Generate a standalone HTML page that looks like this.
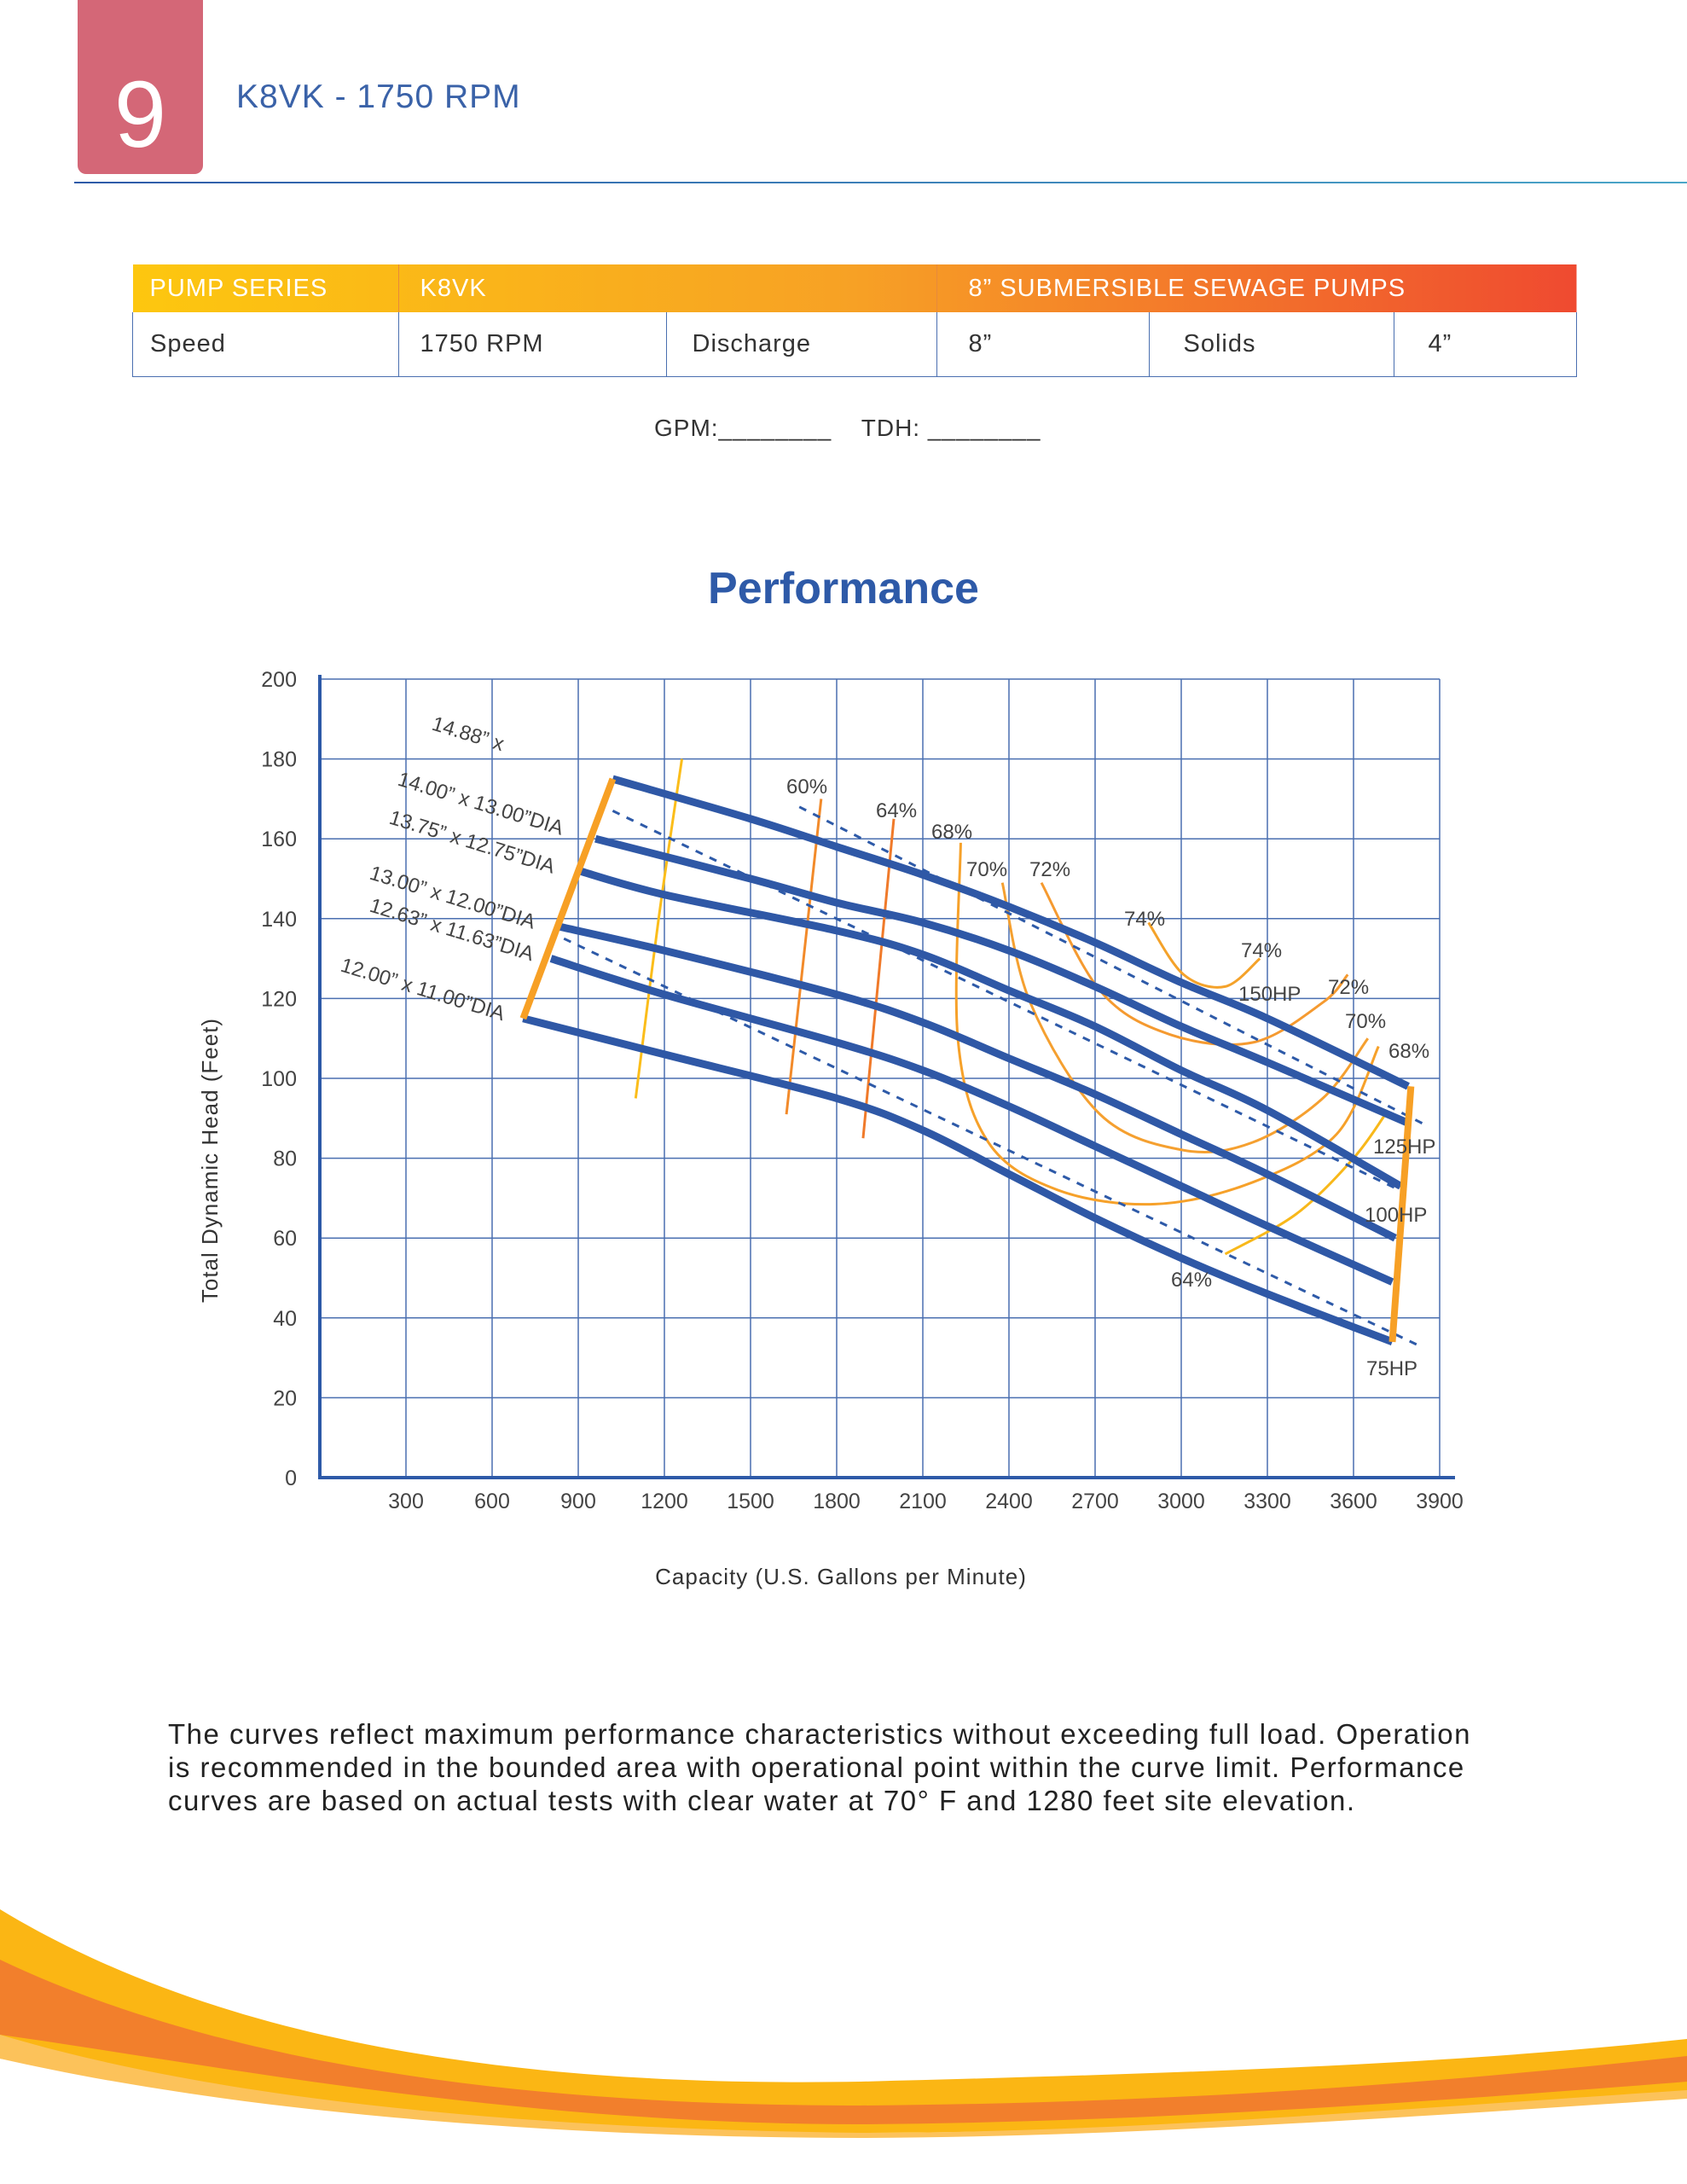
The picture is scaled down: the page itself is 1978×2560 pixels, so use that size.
<!DOCTYPE html>
<html><head><meta charset="utf-8">
<style>
body{margin:0;width:1978px;height:2560px;position:relative;background:#fff;font-family:"Liberation Sans",sans-serif;overflow:hidden}
.abs{position:absolute}
table{border-collapse:collapse}
</style></head><body>
<div class="abs" style="left:91px;top:0;width:147px;height:204px;background:#d46777;border-radius:0 0 10px 10px;color:#fff;font-size:110px;text-align:center;line-height:270px">9</div>
<div class="abs" style="left:277px;top:92px;font-size:39px;color:#3a62a8;letter-spacing:1px">K8VK - 1750 RPM</div>
<div class="abs" style="left:87px;top:213px;width:1891px;height:2px;background:linear-gradient(90deg,#2e5aa8,#4aa6c8)"></div>

<table class="abs" style="left:155px;top:310px;width:1694px;font-size:29px;color:#333;letter-spacing:1px">
<tr style="height:56px;background:linear-gradient(90deg,#fdc70f,#f7a125 50%,#ef4a30);color:#fff">
<td style="width:290px;padding-left:20px;border-right:1px solid #e88a3a">PUMP SERIES</td>
<td colspan="2" style="padding-left:25px;border-right:1px solid #e88a3a">K8VK</td>
<td colspan="3" style="padding-left:37px">8” SUBMERSIBLE SEWAGE PUMPS</td></tr>
<tr style="height:75px">
<td style="padding-left:20px;border:1px solid #4a6fb0;border-top:none">Speed</td>
<td style="width:287px;padding-left:25px;border:1px solid #4a6fb0;border-top:none">1750 RPM</td>
<td style="width:285px;padding-left:30px;border:1px solid #4a6fb0;border-top:none">Discharge</td>
<td style="width:210px;padding-left:37px;border:1px solid #4a6fb0;border-top:none">8”</td>
<td style="width:245px;padding-left:40px;border:1px solid #4a6fb0;border-top:none">Solids</td>
<td style="padding-left:40px;border:1px solid #4a6fb0;border-top:none">4”</td></tr>
</table>
<div class="abs" style="left:767px;top:486px;font-size:28px;color:#333;white-space:pre;letter-spacing:1px">GPM:________    TDH: ________</div>
<div class="abs" style="left:0;width:1978px;top:660px;text-align:center;font-size:52px;font-weight:bold;color:#2e5aa8">Performance</div>

<svg class="abs" style="left:0;top:0" width="1978" height="2560">
<g id="grid"></g><g id="eff"></g><g id="dash"></g><g id="curves"></g><g id="bounds"></g><g id="labels"></g>
<text x="255" y="1360" transform="rotate(-90 255 1360)" text-anchor="middle" font-size="26" fill="#333" letter-spacing="1">Total Dynamic Head (Feet)</text>
<text x="986" y="1857" text-anchor="middle" font-size="26" fill="#333" letter-spacing="1">Capacity (U.S. Gallons per Minute)</text>
<g>
<path d="M0 2238 C300 2420 700 2445 1009 2440 C1400 2430 1700 2420 1978 2390 L1978 2453 C1600 2480 1300 2500 1009 2500 C600 2500 250 2450 0 2413 Z" fill="#fbb614"/>
<path d="M0 2297 C300 2440 700 2468 1009 2468 C1400 2465 1700 2440 1978 2410 L1978 2440 C1600 2470 1300 2488 1009 2490 C600 2490 250 2420 0 2385 Z" fill="#f27f2c"/>
<path d="M0 2385 C250 2460 600 2495 1009 2500 C1300 2500 1600 2475 1978 2450 L1978 2460 C1600 2485 1300 2505 1009 2506 C600 2505 250 2470 0 2413 Z" fill="#fcc25a"/>
</g>
</svg>

<div class="abs" style="left:197px;top:2013px;width:1750px;font-size:33px;line-height:39px;color:#222;white-space:nowrap;letter-spacing:1.5px">The curves reflect maximum performance characteristics without exceeding full load. Operation<br>is recommended in the bounded area with operational point within the curve limit. Performance<br>curves are based on actual tests with clear water at 70° F and 1280 feet site elevation.</div>

<script>
const xTicks=[300,600,900,1200,1500,1800,2100,2400,2700,3000,3300,3600,3900];
const yTicks=[0,20,40,60,80,100,120,140,160,180,200];
const curve1=[[1020,175],[1500,165],[1800,158],[2100,151],[2400,143],[2700,134],[3000,124],[3300,115],[3790,98]];
const curve2=[[960,160],[1500,150],[1800,144],[2100,139],[2400,132],[2700,123],[3000,113],[3300,104],[3784,89]];
const curve3=[[902,152],[1200,146],[1800,137],[2100,131],[2400,122],[2700,113],[3000,102],[3300,92],[3764,73]];
const curve4=[[834,138],[1200,132],[1800,121],[2100,114],[2400,105],[2700,96],[3000,86],[3300,76],[3745,60]];
const curve5=[[805,130],[1200,121],[1800,109],[2100,102],[2400,93],[2700,83],[3000,73],[3300,63],[3735,49]];
const curve6=[[708,115],[1200,106],[1800,95],[2100,87],[2400,76],[2700,65],[3000,55],[3300,46],[3735,34]];
const hp150=[[1670,168],[3860,88]];
const hp125=[[1020,167],[3760,72]];
const hp100=[[850,135],[3830,33]];
const eff60a=[[1100,95],[1180,140],[1261,180]];
const eff60b=[[1625,91],[1746,170]];
const eff64=[[1892,85],[1999,165]];
const eff68=[[2232,159],[2222,110],[2328,84],[2571,72],[2910,68.5],[3250,74],[3541,86],[3687,108]];
const eff70=[[2377,149],[2474,119],[2717,91],[3008,82],[3250,84],[3493,95],[3650,110]];
const eff72=[[2513,149],[2717,122],[2960,111],[3250,109],[3493,119],[3580,126]];
const eff74=[[2886,139],[3008,126],[3153,123],[3274,130]];
const eff64b=[[3153,56],[3400,66],[3600,80],[3720,92]];
const leftBound=[[708,115],[1020,175]];
const rightBound=[[3800,98],[3735,34]];
const X=g=>375+g*(1688-375)/3900, Y=h=>1732-h*4.68;
const NS='http://www.w3.org/2000/svg';
function mk(parent,tag,attrs){const e=document.createElementNS(NS,tag);for(const k in attrs)e.setAttribute(k,attrs[k]);document.getElementById(parent).appendChild(e);return e;}
const pts=a=>a.map(p=>X(p[0]).toFixed(1)+','+Y(p[1]).toFixed(1)).join(' ');
function smooth(a){const p=a.map(q=>[X(q[0]),Y(q[1])]);let d=`M${p[0][0]},${p[0][1]}`;
for(let i=0;i<p.length-1;i++){const p0=p[i-1]||p[i],p1=p[i],p2=p[i+1],p3=p[i+2]||p2;
d+=` C${p1[0]+(p2[0]-p0[0])/6},${p1[1]+(p2[1]-p0[1])/6} ${p2[0]-(p3[0]-p1[0])/6},${p2[1]-(p3[1]-p1[1])/6} ${p2[0]},${p2[1]}`;}return d;}
for(const t of xTicks){const e=mk('grid','line',{x1:X(t),x2:X(t),y1:Y(200),y2:Y(0),stroke:'#4a6fb0','stroke-width':1.5});


const l=mk('labels','text',{x:X(t),y:1768,'text-anchor':'middle','font-size':25,fill:'#444'});l.textContent=t;

}
for(const t of yTicks){const e=mk('grid','line',{x1:X(0),x2:X(3900),y1:Y(t),y2:Y(t),stroke:'#4a6fb0','stroke-width':1.5});


const l=mk('labels','text',{x:348,y:Y(t)+9,'text-anchor':'end','font-size':25,fill:'#444'});l.textContent=t;

}
const ax=mk('grid','path',{d:`M${X(0)} ${Y(200)-5} V${Y(0)} H${X(3900)+18}`,stroke:'#2e5aa8','stroke-width':4,fill:'none'});


const effs=[[eff60a,'#fbbd1a'],[eff60b,'#f28a2a'],[eff64,'#f07a2a'],[eff68,'#f6a12a'],[eff70,'#f5a030'],[eff72,'#f59a30'],[eff74,'#f4a22a'],[eff64b,'#f8b81a']];
for(const [a,c] of effs){const e=mk('eff','path',{d:smooth(a),stroke:c,'stroke-width':3,fill:'none'});

}
for(const a of [hp150,hp125,hp100]){const e=mk('dash','polyline',{points:pts(a),stroke:'#2e5aa8','stroke-width':3,'stroke-dasharray':'9 9',fill:'none'});

}
for(const a of [curve1,curve2,curve3,curve4,curve5,curve6]){const e=mk('curves','path',{d:smooth(a),stroke:'#2f58a6','stroke-width':9,fill:'none','stroke-linejoin':'round'});

}
for(const a of [leftBound,rightBound]){const e=mk('bounds','polyline',{points:pts(a),stroke:'#f7a025','stroke-width':8,fill:'none'});

}
const txt=[['14.88” x',505,855,17],['14.00” x 13.00”DIA',465,920,17],['13.75” x 12.75”DIA',455,965,17],['13.00” x 12.00”DIA',432,1030,17],['12.63” x 11.63”DIA',432,1068,17],['12.00” x 11.00”DIA',398,1138,17],
['60%',922,930,0],['64%',1027,958,0],['68%',1092,983,0],['70%',1133,1027,0],['72%',1207,1027,0],['74%',1318,1085,0],['74%',1455,1122,0],['150HP',1452,1173,0],['72%',1557,1165,0],['70%',1577,1205,0],['68%',1628,1240,0],['125HP',1610,1352,0],['100HP',1600,1432,0],['64%',1373,1508,0],['75HP',1602,1612,0]];
for(const [s,x,y,r] of txt){const l=mk('labels','text',{x:x,y:y,'font-size':24,fill:'#444',transform:`rotate(${r} ${x} ${y})`});l.textContent=s;

}
</script>
</body></html>
